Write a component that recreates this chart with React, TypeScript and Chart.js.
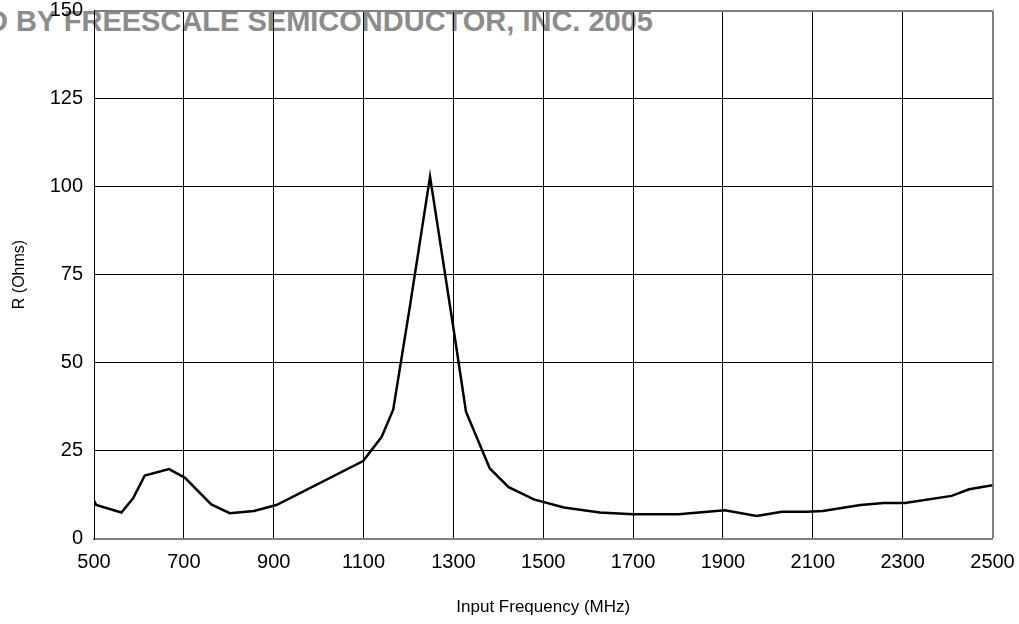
import React, { useEffect, useRef } from "react";
import { Chart, registerables } from "chart.js";

Chart.register(...registerables);

const frequencyMHz = [
  500, 505, 561, 587, 613, 667, 702, 761, 802, 856, 906, 1099, 1140, 1166,
  1203, 1248, 1303, 1328, 1381, 1423, 1479, 1546, 1626, 1700, 1801, 1904,
  1975, 2031, 2087, 2122, 2206, 2258, 2305, 2409, 2448, 2500,
];
const resistanceOhms = [
  10.8, 9.5, 7.4, 11.4, 17.9, 19.7, 17.3, 9.7, 7.2, 7.8, 9.5, 22.0, 28.8, 36.6,
  65.8, 102.8, 57.3, 36.0, 19.9, 14.6, 11.1, 8.8, 7.4, 6.9, 6.9, 8.0, 6.4, 7.6,
  7.6, 7.8, 9.5, 10.1, 10.1, 12.1, 14.0, 15.1,
];
const xTicks = [500, 700, 900, 1100, 1300, 1500, 1700, 1900, 2100, 2300, 2500];
const yTicks = [0, 25, 50, 75, 100, 125, 150];

const xTitle = "Input Frequency (MHz)";
const yTitle = "R (Ohms)";
const watermark = "ARCHIVED BY FREESCALE SEMICONDUCTOR, INC. 2005";

const FONT = "'Liberation Sans', Arial, Helvetica, sans-serif";
const FRAME = "#808080";
const CLEAR = "rgba(0,0,0,0)";

export default function App() {
  const canvasRef = useRef<HTMLCanvasElement | null>(null);

  useEffect(() => {
    if (!canvasRef.current) return;
    const points = frequencyMHz.map((f, i) => ({ x: f, y: resistanceOhms[i] }));
    const chart = new Chart(canvasRef.current, {
      type: "line",
      data: {
        datasets: [
          {
            data: points,
            borderColor: "#000",
            borderWidth: 2.5,
            pointRadius: 0,
            tension: 0,
            fill: false,
          },
        ],
      },
      options: {
        animation: false,
        responsive: false,
        devicePixelRatio: 1,
        layout: { padding: { top: 10.5, right: 26.5, left: 0, bottom: 0 } },
        plugins: { legend: { display: false }, tooltip: { enabled: false } },
        scales: {
          x: {
            type: "linear",
            min: 500,
            max: 2500,
            afterBuildTicks: (s: any) => {
              s.ticks = xTicks.map((v) => ({ value: v }));
            },
            afterFit: (s: any) => {
              s.height = 85.5;
            },
            ticks: {
              color: "#000",
              font: { family: FONT, size: 20 },
              padding: 0,
              maxRotation: 0,
              autoSkip: false,
              callback: (v: any) => String(v),
            },
            grid: {
              drawTicks: true,
              tickLength: 12,
              tickColor: CLEAR,
              color: (c: any) => (c.tick && c.tick.value === 2500 ? FRAME : "#000"),
              lineWidth: (c: any) => (c.tick && c.tick.value === 2500 ? 2 : 1),
            },
            border: { display: true, color: FRAME, width: 2 },
            title: {
              display: true,
              text: xTitle,
              color: "#000",
              font: { family: FONT, size: 17 },
              padding: { top: 0, bottom: 6 },
            },
          },
          y: {
            type: "linear",
            min: 0,
            max: 150,
            afterBuildTicks: (s: any) => {
              s.ticks = yTicks.map((v) => ({ value: v }));
            },
            afterFit: (s: any) => {
              s.width = 94;
            },
            ticks: {
              color: "#000",
              font: { family: FONT, size: 20, lineHeight: 1 },
              padding: 0,
              autoSkip: false,
              callback: (v: any) => String(v),
            },
            grid: {
              drawTicks: true,
              tickLength: 11,
              tickColor: CLEAR,
              color: (c: any) =>
                c.tick && (c.tick.value === 150 || c.tick.value === 0) ? FRAME : "#000",
              lineWidth: (c: any) =>
                c.tick && (c.tick.value === 150 || c.tick.value === 0) ? 2 : 1,
            },
            border: { display: true, color: "#000", width: 1 },
            title: {
              display: true,
              text: yTitle,
              color: "#000",
              font: { family: FONT, size: 16 },
              padding: { top: 10, bottom: 0 },
            },
          },
        },
      },
    });
    return () => chart.destroy();
  }, []);

  return (
    <div
      style={{
        position: "fixed",
        left: 0,
        top: 0,
        width: 1019,
        height: 624,
        overflow: "hidden",
        background: "#fff",
      }}
    >
      <div
        style={{
          position: "absolute",
          right: 1019 - 653,
          top: 6.5,
          whiteSpace: "nowrap",
          fontFamily: FONT,
          fontWeight: "bold",
          fontSize: 29,
          lineHeight: "29px",
          color: "#8c8c8c",
          zIndex: 0,
        }}
      >
        {watermark}
      </div>
      <canvas
        ref={canvasRef}
        width={1019}
        height={624}
        style={{ position: "absolute", left: 0, top: 0, width: 1019, height: 624, zIndex: 1 }}
      />
    </div>
  );
}
